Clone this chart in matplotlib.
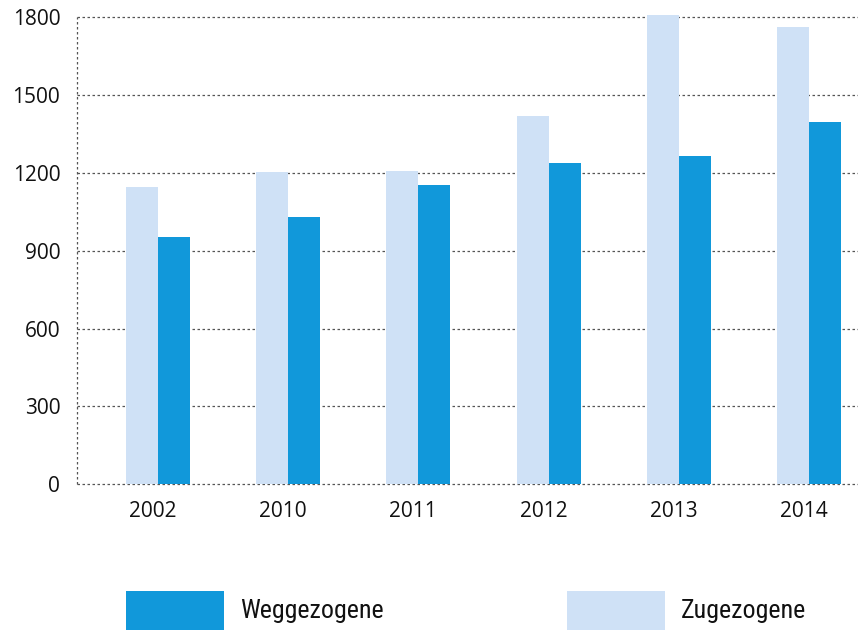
import matplotlib
matplotlib.use("Agg")
import matplotlib.pyplot as plt
from matplotlib.patches import Rectangle
from matplotlib import font_manager
import numpy as np

years = ["2002", "2010", "2011", "2012", "2013", "2014"]
zugezogene = [1147, 1205, 1209, 1420, 1809, 1763]
weggezogene = [955, 1032, 1155, 1240, 1267, 1397]
yticks = [0, 300, 600, 900, 1200, 1500, 1800]

dark = "#1198DA"
light = "#CFE1F6"

avail = {f.name for f in font_manager.fontManager.ttflist}
def pick(*names):
    for n in names:
        if n in avail:
            return n
    return "DejaVu Sans"

tick_font = pick("Open Sans", "Lato", "DejaVu Sans")
leg_font = pick("Liberation Sans Narrow", "Roboto Condensed", "Open Sans", "DejaVu Sans")

fig = plt.figure(figsize=(8.58, 6.3), dpi=100)
ax = fig.add_axes([0.0897, 0.2313, 0.9103, 0.7412])

x = np.arange(len(years))
w = 0.246
ax.bar(x - w / 2, zugezogene, width=w, color=light, zorder=2, clip_on=False)
ax.bar(x + w / 2, weggezogene, width=w, color=dark, zorder=2, clip_on=False)

ax.set_xlim(-0.622, 5.376)
ax.set_ylim(0, 1800)
ax.set_yticks(yticks)
ax.set_yticklabels([str(v) for v in yticks])
ax.set_xticks(x - 0.04)
ax.set_xticklabels(years)

for y in yticks:
    ax.axhline(y, color="#555555", lw=0.9, ls=(0, (2, 2)), zorder=1, clip_on=False)
ax.axvline(-0.622, color="#555555", lw=0.9, ls=(0, (2, 2)), zorder=1, clip_on=False)

for s in ax.spines.values():
    s.set_visible(False)
ax.tick_params(axis="both", length=0, labelsize=15, colors="#111111")
ax.tick_params(axis="y", pad=12)
ax.tick_params(axis="x", pad=12)
for lbl in ax.get_xticklabels() + ax.get_yticklabels():
    lbl.set_fontfamily(tick_font)

# legend
W, H = 858, 630
def rect(x0, y0, x1, y1, c):
    fig.add_artist(Rectangle((x0 / W, 1 - y1 / H), (x1 - x0) / W, (y1 - y0) / H,
                             transform=fig.transFigure, color=c, lw=0))
rect(126, 591, 224, 630, dark)
rect(567, 591, 665, 630, light)
fig.text(240 / W, 1 - 611 / H, "Weggezogene", fontsize=18.7, family=leg_font,
         va="center", ha="left", color="#111111")
fig.text(681 / W, 1 - 611 / H, "Zugezogene", fontsize=18.7, family=leg_font,
         va="center", ha="left", color="#111111")

fig.savefig("out.png", dpi=100)
